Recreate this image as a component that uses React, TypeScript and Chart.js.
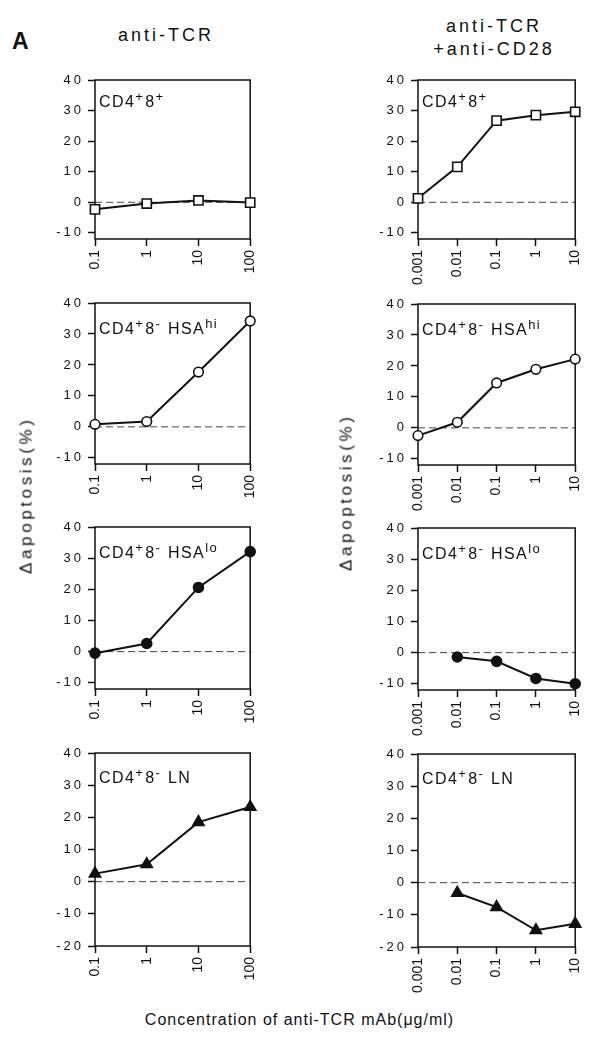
import React, { useEffect, useRef } from "react";
import { Chart, registerables } from "chart.js";

Chart.register(...registerables);

// ---------- data ----------
const leftConc = [0.1, 1, 10, 100];
const leftTickLabels = ["0.1", "1", "10", "100"];
const rightConc = [0.001, 0.01, 0.1, 1, 10];
const rightTickLabels = ["0.001", "0.01", "0.1", "1", "10"];

const yTicksUpper = [-10, 0, 10, 20, 30, 40];
const yTicksLower = [-20, -10, 0, 10, 20, 30, 40];

// anti-TCR (left column)
const dpTCR = [-2.3, -0.4, 0.6, -0.1];
const hsaHiTCR = [0.8, 1.7, 17.7, 34.2];
const hsaLoTCR = [-0.5, 2.6, 20.6, 32.1];
const lnTCR = [2.5, 5.4, 18.5, 23.2];

// anti-TCR + anti-CD28 (right column)
const dpCD28 = [1.3, 11.6, 26.7, 28.5, 29.6];
const hsaHiCD28 = [-2.5, 1.8, 14.5, 18.9, 22.2];
const hsaLoCD28 = [null, -1.4, -2.8, -8.3, -10.0];
const lnCD28 = [null, -3.2, -7.6, -14.8, -12.8];

// panel labels: [text, superscript?]
const labelDP: [string, boolean][] = [["CD4", false], ["+", true], ["8", false], ["+", true]];
const labelHi: [string, boolean][] = [["CD4", false], ["+", true], ["8", false], ["-", true], [" HSA", false], ["hi", true]];
const labelLo: [string, boolean][] = [["CD4", false], ["+", true], ["8", false], ["-", true], [" HSA", false], ["lo", true]];
const labelLN: [string, boolean][] = [["CD4", false], ["+", true], ["8", false], ["-", true], [" LN", false]];

const columnTitleLeft = ["anti-TCR"];
const columnTitleRight = ["anti-TCR", "+anti-CD28"];
const yAxisTitle = "\u0394apoptosis(%)";
const xAxisTitle = "Concentration of anti-TCR mAb(\u03bcg/ml)";

// ---------- layout ----------
const FONT = "'Liberation Sans', Arial, Helvetica, sans-serif";
const PL = 75; // y axis area width
const PT = 12;
const PR = 14;
const PB = 55; // x axis area height
const INK = "#111";

type Panel = {
  left: number; top: number; w: number; h: number;
  conc: number[]; tickLabels: string[]; values: (number | null)[];
  yMin: number; yTicks: number[];
  marker: string; radius: number; filled: boolean;
  label: [string, boolean][]; labelDy: number;
};

const colL = { left: 95, w: 162 };
const colR = { left: 418, w: 164 };
const rowsL = [[80, 239], [303, 464], [527, 689], [753, 946]];
const rowsR = [[80, 239], [304, 465], [528, 690], [754, 947]];
const markers = [
  { marker: "rect", radius: 6.5, filled: false },
  { marker: "circle", radius: 4.8, filled: false },
  { marker: "circle", radius: 5, filled: true },
  { marker: "triangle", radius: 6.5, filled: true },
];
const labels = [labelDP, labelHi, labelLo, labelLN];
const labelDys = [27, 31, 31, 30];
const leftVals = [dpTCR, hsaHiTCR, hsaLoTCR, lnTCR];
const rightVals = [dpCD28, hsaHiCD28, hsaLoCD28, lnCD28];

const panels: Panel[] = [];
for (let r = 0; r < 4; r++) {
  const yMin = r === 3 ? -20 : -12;
  const yTicks = r === 3 ? yTicksLower : yTicksUpper;
  panels.push({
    left: colL.left, w: colL.w, top: rowsL[r][0], h: rowsL[r][1] - rowsL[r][0],
    conc: leftConc, tickLabels: leftTickLabels, values: leftVals[r],
    yMin, yTicks, ...markers[r], label: labels[r], labelDy: labelDys[r],
  });
  panels.push({
    left: colR.left, w: colR.w, top: rowsR[r][0], h: rowsR[r][1] - rowsR[r][0],
    conc: rightConc, tickLabels: rightTickLabels, values: rightVals[r],
    yMin, yTicks, ...markers[r], label: labels[r], labelDy: labelDys[r],
  });
}

function makePlugin(p: Panel) {
  return {
    id: "frameAndLabel",
    beforeDraw(chart: any) {
      const y = chart.scales.y;
      if (y && !y.__spaced) {
        const orig = y.drawLabels.bind(y);
        y.drawLabels = (area: any) => {
          const c = chart.ctx as any;
          c.save();
          c.letterSpacing = "3px";
          orig(area);
          c.restore();
        };
        y.__spaced = true;
      }
    },
    beforeDatasetsDraw(chart: any) {
      const { ctx, chartArea: a, scales } = chart;
      const y0 = scales.y.getPixelForValue(0);
      ctx.save();
      ctx.strokeStyle = "#444";
      ctx.lineWidth = 1;
      ctx.setLineDash([7, 4]);
      ctx.beginPath();
      ctx.moveTo(a.left, y0);
      ctx.lineTo(a.right, y0);
      ctx.stroke();
      ctx.setLineDash([]);
      ctx.strokeStyle = INK;
      ctx.lineWidth = 1.5;
      ctx.strokeRect(a.left, a.top, a.right - a.left, a.bottom - a.top);
      // panel label
      (ctx as any).letterSpacing = "1.4px";
      ctx.fillStyle = INK;
      ctx.textBaseline = "alphabetic";
      ctx.textAlign = "left";
      let x = a.left + 4;
      const base = a.top + p.labelDy;
      for (const [t, sup] of p.label) {
        ctx.font = sup ? `13px ${FONT}` : `16px ${FONT}`;
        ctx.fillText(t, x, sup ? base - 6 : base);
        x += ctx.measureText(t).width + (sup ? 1 : 0);
      }
      ctx.restore();
    },
  };
}

function PanelChart({ p }: { p: Panel }) {
  const ref = useRef<HTMLCanvasElement>(null);
  useEffect(() => {
    const canvas = ref.current!;
    const chart = new Chart(canvas, {
      type: "line",
      data: {
        datasets: [
          {
            data: p.conc.map((x, i) => ({ x, y: p.values[i] })) as any,
            borderColor: INK,
            borderWidth: 2,
            pointStyle: p.marker as any,
            pointRadius: p.radius,
            pointBackgroundColor: p.filled ? INK : "#fff",
            pointBorderColor: INK,
            pointBorderWidth: 1.6,
            tension: 0,
            clip: false as any,
          },
        ],
      },
      options: {
        responsive: false,
        animation: false,
        devicePixelRatio: 1,
        events: [],
        layout: { padding: { left: 0, top: PT, right: PR, bottom: 0 } },
        plugins: { legend: { display: false }, tooltip: { enabled: false } },
        scales: {
          x: {
            type: "logarithmic",
            min: p.conc[0],
            max: p.conc[p.conc.length - 1],
            afterBuildTicks: (ax: any) => {
              ax.ticks = p.conc.map((v) => ({ value: v }));
            },
            afterFit: (ax: any) => {
              ax.height = PB;
            },
            ticks: {
              autoSkip: false,
              minRotation: 90,
              maxRotation: 90,
              padding: 4,
              color: INK,
              font: { size: 14, family: FONT },
              callback: (_v: any, i: number) => p.tickLabels[i],
            },
            grid: { drawOnChartArea: false, drawTicks: true, tickLength: 7, tickColor: INK, tickWidth: 1.5 },
            border: { display: false },
          },
          y: {
            type: "linear",
            min: p.yMin,
            max: 40,
            afterBuildTicks: (ax: any) => {
              ax.ticks = p.yTicks.map((v) => ({ value: v }));
            },
            afterFit: (ax: any) => {
              ax.width = PL;
            },
            ticks: {
              padding: 4,
              color: INK,
              font: { size: 13, family: FONT },
              callback: (v: any) => String(v),
            },
            grid: { drawOnChartArea: false, drawTicks: true, tickLength: 7, tickColor: INK, tickWidth: 1.5 },
            border: { display: false },
          },
        },
      } as any,
      plugins: [makePlugin(p)],
    });
    return () => chart.destroy();
  }, [p]);
  const W = PL + p.w + PR;
  const H = PT + p.h + PB;
  return (
    <canvas
      ref={ref}
      width={W}
      height={H}
      style={{ position: "absolute", left: p.left - PL, top: p.top - PT, width: W, height: H }}
    />
  );
}

const textBase: React.CSSProperties = {
  position: "absolute",
  fontFamily: FONT,
  color: INK,
  whiteSpace: "nowrap",
};

export default function App() {
  return (
    <div style={{ position: "absolute", left: 0, top: 0, width: 589, height: 1048, background: "#fff", overflow: "hidden" }}>
      {panels.map((p, i) => (
        <PanelChart key={i} p={p} />
      ))}
      <div style={{ ...textBase, left: 12, top: 30, fontSize: 23, lineHeight: "23px", fontWeight: "bold" }}>A</div>
      {columnTitleLeft.map((t, i) => (
        <div key={"l" + i} style={{ ...textBase, left: 164.5, top: 26 + i * 23, fontSize: 18, lineHeight: "18px", letterSpacing: "3px", paddingLeft: 3, transform: "translateX(-50%)" }}>{t}</div>
      ))}
      {columnTitleRight.map((t, i) => (
        <div key={"r" + i} style={{ ...textBase, left: 492.5, top: 17 + i * 23, fontSize: 18, lineHeight: "18px", letterSpacing: "3px", paddingLeft: 3, transform: "translateX(-50%)" }}>{t}</div>
      ))}
      {[ [25.5, 497], [345.5, 494] ].map(([cx, cy], i) => (
        <div key={"y" + i} style={{ ...textBase, left: cx, top: cy, fontSize: 17, lineHeight: "17px", letterSpacing: "3.6px", paddingLeft: 3.6, transform: "translate(-50%, -50%) rotate(-90deg)" }}>{yAxisTitle}</div>
      ))}
      <div style={{ ...textBase, left: 299, top: 1011.5, fontSize: 16, lineHeight: "16px", letterSpacing: "1px", paddingLeft: 1, transform: "translateX(-50%)" }}>{xAxisTitle}</div>
    </div>
  );
}
